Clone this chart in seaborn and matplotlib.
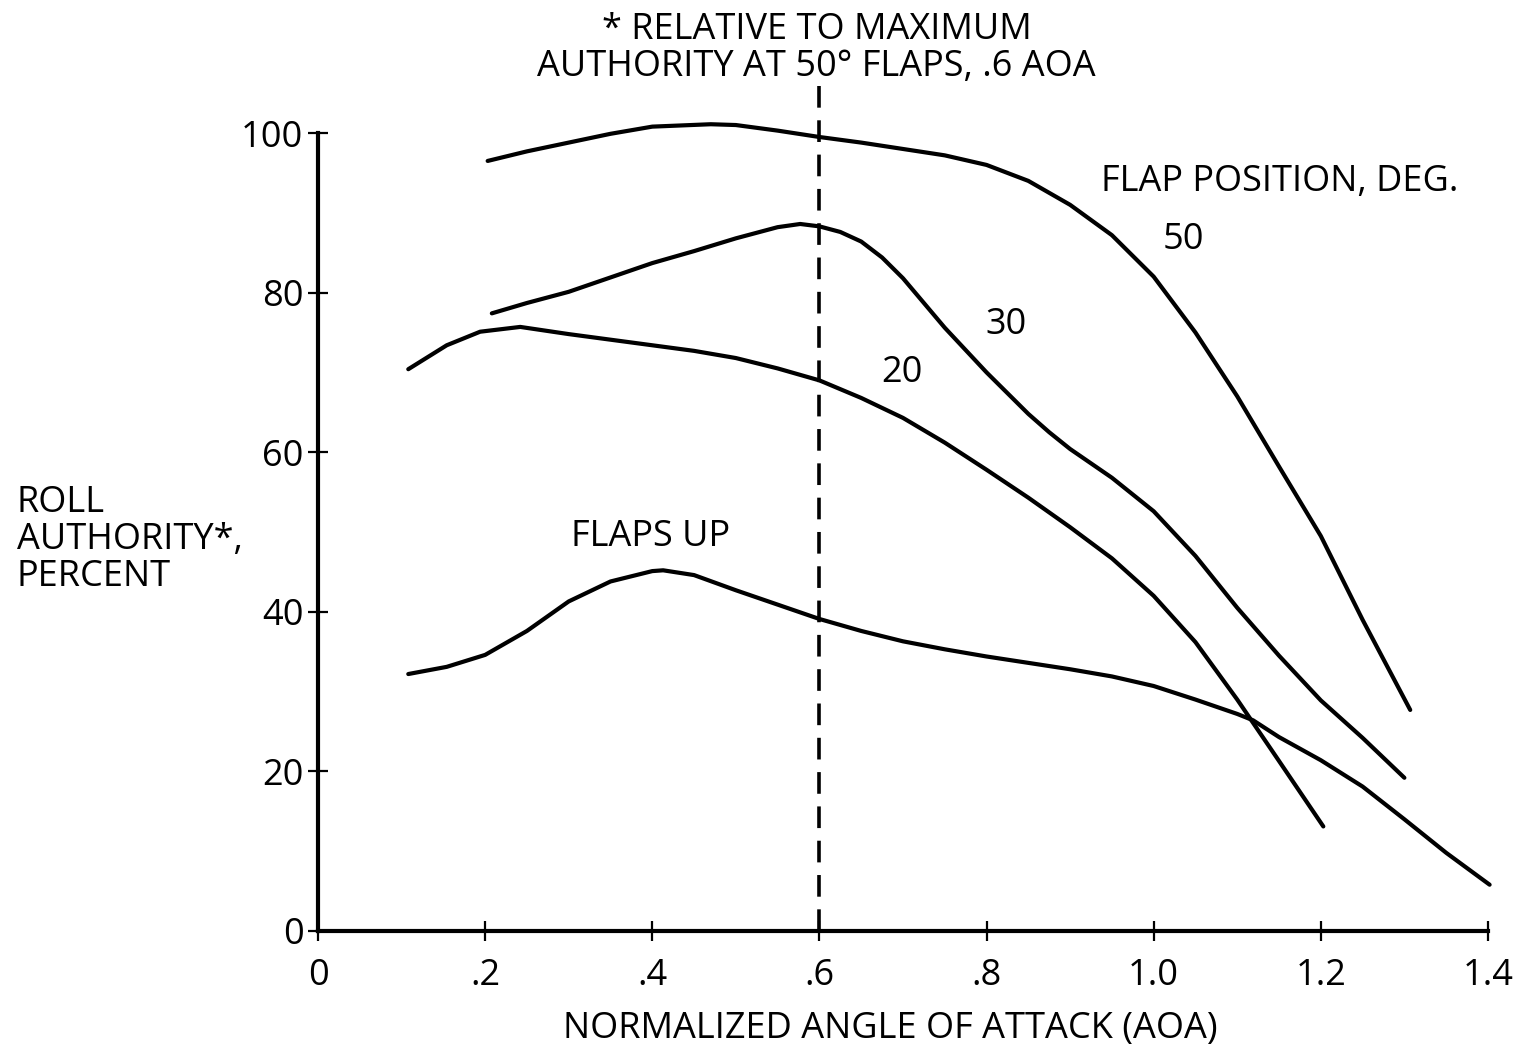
import matplotlib
matplotlib.use("Agg")
import matplotlib.pyplot as plt
import seaborn as sns
import pandas as pd

# Roll authority (percent) versus normalized angle of attack, per flap setting
aoa_50 = [0.203, 0.25, 0.30, 0.35, 0.40, 0.47, 0.50, 0.55, 0.60, 0.65, 0.70, 0.75, 0.80,
          0.85, 0.90, 0.95, 1.00, 1.05, 1.10, 1.15, 1.20, 1.25, 1.307]
roll_50 = [96.5, 97.7, 98.8, 99.9, 100.8, 101.1, 101.0, 100.3, 99.5, 98.8, 98.0, 97.2, 96.0,
           94.0, 91.0, 87.2, 82.0, 75.0, 67.0, 58.2, 49.5, 39.0, 27.7]

aoa_30 = [0.208, 0.25, 0.30, 0.35, 0.40, 0.45, 0.50, 0.55, 0.577, 0.60, 0.625, 0.65, 0.675,
          0.70, 0.75, 0.80, 0.85, 0.875, 0.90, 0.95, 1.00, 1.05, 1.10, 1.15, 1.20, 1.25, 1.30]
roll_30 = [77.4, 78.7, 80.1, 81.9, 83.7, 85.2, 86.8, 88.2, 88.6, 88.3, 87.6, 86.4, 84.4,
           81.8, 75.6, 70.0, 64.8, 62.5, 60.4, 56.8, 52.6, 47.0, 40.5, 34.5, 28.9, 24.2, 19.2]

aoa_20 = [0.108, 0.154, 0.194, 0.242, 0.30, 0.35, 0.40, 0.45, 0.50, 0.55, 0.60, 0.65, 0.70,
          0.75, 0.80, 0.85, 0.90, 0.95, 1.00, 1.05, 1.10, 1.15, 1.203]
roll_20 = [70.4, 73.4, 75.1, 75.7, 74.8, 74.1, 73.4, 72.7, 71.8, 70.5, 69.0, 66.8, 64.3,
           61.2, 57.8, 54.3, 50.6, 46.7, 42.0, 36.2, 29.0, 21.3, 13.1]

aoa_up = [0.108, 0.154, 0.20, 0.25, 0.30, 0.35, 0.40, 0.413, 0.45, 0.50, 0.55, 0.60, 0.65,
          0.70, 0.75, 0.80, 0.85, 0.90, 0.95, 1.00, 1.05, 1.10, 1.119, 1.15, 1.20, 1.25,
          1.30, 1.35, 1.402]
roll_up = [32.2, 33.1, 34.6, 37.6, 41.3, 43.8, 45.1, 45.2, 44.6, 42.7, 40.9, 39.1, 37.6,
           36.3, 35.3, 34.4, 33.6, 32.8, 31.9, 30.7, 29.0, 27.2, 26.4, 24.3, 21.4, 18.1,
           14.0, 9.8, 5.8]

series_names = ["50", "30", "20", "FLAPS UP"]
x_ticks = [0, 0.2, 0.4, 0.6, 0.8, 1.0, 1.2, 1.4]
x_tick_labels = ["0", ".2", ".4", ".6", ".8", "1.0", "1.2", "1.4"]
y_ticks = [0, 20, 40, 60, 80, 100]
y_tick_labels = ["0", "20", "40", "60", "80", "100"]
ref_aoa = 0.6

frames = []
for name, xs, ys in zip(series_names,
                        [aoa_50, aoa_30, aoa_20, aoa_up],
                        [roll_50, roll_30, roll_20, roll_up]):
    frames.append(pd.DataFrame({"aoa": xs, "roll": ys, "flap": name}))
data = pd.concat(frames, ignore_index=True)

sns.set_style("ticks")
plt.rcParams["font.family"] = ["Open Sans", "DejaVu Sans"]
for key in ["text.color", "axes.labelcolor", "xtick.color", "ytick.color", "axes.edgecolor"]:
    plt.rcParams[key] = "black"
FS = 26

fig = plt.figure(figsize=(15.18, 10.49), dpi=100)
ax = fig.add_axes([0.2095, 0.1125, 0.7707, 0.7607])

sns.lineplot(data=data, x="aoa", y="roll", hue="flap", units="flap",
             estimator=None, sort=False, legend=False,
             palette={n: "black" for n in series_names},
             linewidth=3.0, ax=ax)
for line in ax.get_lines():
    line.set_clip_on(False)
    line.set_solid_capstyle("round")
    line.set_solid_joinstyle("round")

# reference AOA
ax.vlines(ref_aoa, 0, 106.5, colors="black", linestyles=(0, (6, 3.5)),
          linewidth=2.6, clip_on=False)

ax.set_xlim(0, 1.4)
ax.set_ylim(0, 100)
ax.set_xticks(x_ticks)
ax.set_xticklabels(x_tick_labels, fontsize=FS)
ax.set_yticks(y_ticks)
ax.set_yticklabels(y_tick_labels, fontsize=FS)
ax.tick_params(axis="both", direction="inout", length=15, width=1.6, color="black",
               bottom=True, left=True)
ax.tick_params(axis="x", pad=12)
ax.tick_params(axis="y", pad=3)
for side in ["top", "right"]:
    ax.spines[side].set_visible(False)
for side in ["left", "bottom"]:
    ax.spines[side].set_linewidth(3.0)
ax.set_xlabel("")
ax.set_ylabel("")

fig.text(0.5865, 0.0195, "NORMALIZED ANGLE OF ATTACK (AOA)", ha="center", va="center", fontsize=FS)
fig.text(0.011, 0.4855, "ROLL\nAUTHORITY*,\nPERCENT", ha="left", va="center",
         fontsize=FS, linespacing=1.03)
fig.text(0.538, 0.954, "* RELATIVE TO MAXIMUM\nAUTHORITY AT 50° FLAPS, .6 AOA",
         ha="center", va="center", fontsize=FS, linespacing=1.03)

ax.text(1.151, 93.9, "FLAP POSITION, DEG.", ha="center", va="center", fontsize=FS)
ax.text(1.035, 86.6, "50", ha="center", va="center", fontsize=FS)
ax.text(0.823, 75.9, "30", ha="center", va="center", fontsize=FS)
ax.text(0.699, 69.9, "20", ha="center", va="center", fontsize=FS)
ax.text(0.398, 49.4, "FLAPS UP", ha="center", va="center", fontsize=FS)

fig.savefig("out.png", dpi=100, facecolor="white")
